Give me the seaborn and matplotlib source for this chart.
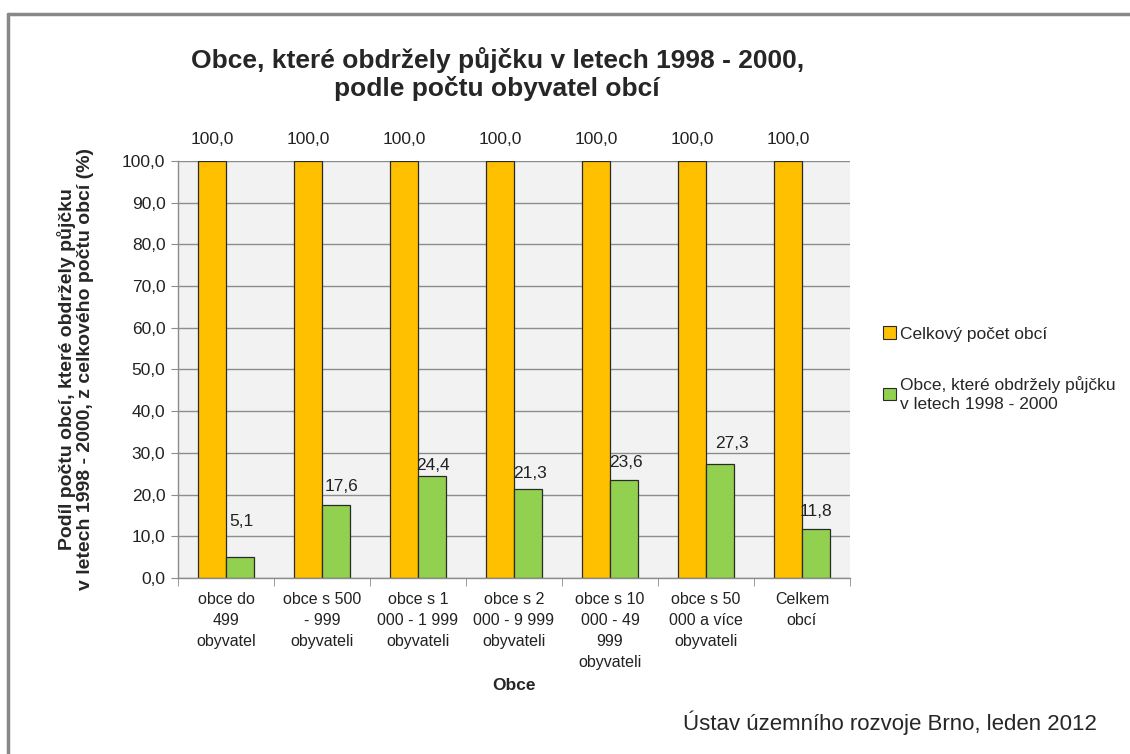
import matplotlib
matplotlib.use("Agg")
import matplotlib.pyplot as plt
from matplotlib.lines import Line2D
from matplotlib.patches import Patch
import seaborn as sns
import pandas as pd

categories = [
    "obce do\n499\nobyvatel",
    "obce s 500\n- 999\nobyvateli",
    "obce s 1\n000 - 1 999\nobyvateli",
    "obce s 2\n000 - 9 999\nobyvateli",
    "obce s 10\n000 - 49\n999\nobyvateli",
    "obce s 50\n000 a více\nobyvateli",
    "Celkem\nobcí",
]
total_share = [100.0, 100.0, 100.0, 100.0, 100.0, 100.0, 100.0]
loan_share = [5.1, 17.6, 24.4, 21.3, 23.6, 27.3, 11.8]
series_names = ["Celkový počet obcí", "Obce, které obdržely půjčku\nv letech 1998 - 2000"]
colors = ["#FFC000", "#92D050"]
yticks = [0, 10, 20, 30, 40, 50, 60, 70, 80, 90, 100]

# label placement as in the original (pixels above bar top, sideways shift)
green_label_dy = [35, 18, 11, 16, 17, 21, 17]
green_label_dx = [2, 6, 1, 2, 2, 12, 0]

df = pd.DataFrame({
    "Obce": categories * 2,
    "value": total_share + loan_share,
    "series": [series_names[0]] * 7 + [series_names[1]] * 7,
})

sns.set_style("white")
plt.rcParams["font.family"] = ["Liberation Sans", "DejaVu Sans"]

fig = plt.figure(figsize=(11.3, 7.54), dpi=100)
ax = fig.add_axes([0.1575, 0.2334, 0.5947, 0.5531])

sns.barplot(data=df, x="Obce", y="value", hue="series", palette=colors, saturation=1,
            width=0.58, edgecolor="#2a2a2a", linewidth=0.9, ax=ax, legend=False)

ax.set_facecolor("#F2F2F2")
ax.set_ylim(0, 100)
ax.set_xlim(-0.5, 6.5)
ax.set_yticks(yticks)
ax.set_yticklabels([f"{v:.1f}".replace(".", ",") for v in yticks], fontsize=12.5, color="#222222")
ax.yaxis.grid(True, color="#8c8c8c", linewidth=1)
ax.set_axisbelow(True)
ax.tick_params(axis="y", length=5, color="#8c8c8c", left=True, pad=4)
ax.tick_params(axis="x", which="major", length=0, labelcolor="#222222", pad=10)
for lbl in ax.get_xticklabels():
    lbl.set_fontsize(11.5)
    lbl.set_linespacing(1.5)
ax.set_xticks([i + 0.5 for i in range(-1, 7)], minor=True)
ax.tick_params(axis="x", which="minor", length=6, color="#8c8c8c", bottom=True)
for s in ["top", "right"]:
    ax.spines[s].set_visible(False)
for s in ["left", "bottom"]:
    ax.spines[s].set_color("#8c8c8c")
    ax.spines[s].set_linewidth(1)

orange_bars, green_bars = ax.containers[0], ax.containers[1]
for b in orange_bars:
    ax.annotate(f"{b.get_height():.1f}".replace(".", ","),
                (b.get_x() + b.get_width() / 2, b.get_height()),
                xytext=(0, 21), textcoords="offset pixels",
                ha="center", va="center", fontsize=12.5, color="#222222")
for b, dy, dx in zip(green_bars, green_label_dy, green_label_dx):
    ax.annotate(f"{b.get_height():.1f}".replace(".", ","),
                (b.get_x() + b.get_width() / 2, b.get_height()),
                xytext=(dx, dy), textcoords="offset pixels",
                ha="center", va="center", fontsize=12.5, color="#222222")

ax.set_xlabel("Obce", fontsize=12.5, fontweight="bold", labelpad=6)
ax.set_ylabel("Podíl počtu obcí, které obdržely půjčku\nv letech 1998 - 2000, z celkového počtu obcí (%)",
              fontsize=14, fontweight="bold", labelpad=20, linespacing=1.1)

fig.text(0.44, 0.902, "Obce, které obdržely půjčku v letech 1998 - 2000,\npodle počtu obyvatel obcí",
         ha="center", va="center", fontsize=19, fontweight="bold", linespacing=1.15)

handles = [Patch(facecolor=c, edgecolor="#2a2a2a", linewidth=0.8) for c in colors]
leg = fig.legend(handles, series_names, loc="upper left", bbox_to_anchor=(0.768, 0.588),
                 frameon=False, fontsize=12.5, handlelength=0.75, handleheight=0.75,
                 handletextpad=0.2, labelspacing=2.0)
for t in leg.get_texts():
    t.set_linespacing(1.3)

fig.text(0.971, 0.042, "Ústav územního rozvoje Brno, leden 2012", ha="right", va="center", fontsize=16)

fig.add_artist(Line2D([0.0075, 0.0075], [0, 0.981], color="#888888", linewidth=2.5))
fig.add_artist(Line2D([0.0075, 1], [0.981, 0.981], color="#888888", linewidth=2.5))

fig.savefig("out.png", dpi=100)
